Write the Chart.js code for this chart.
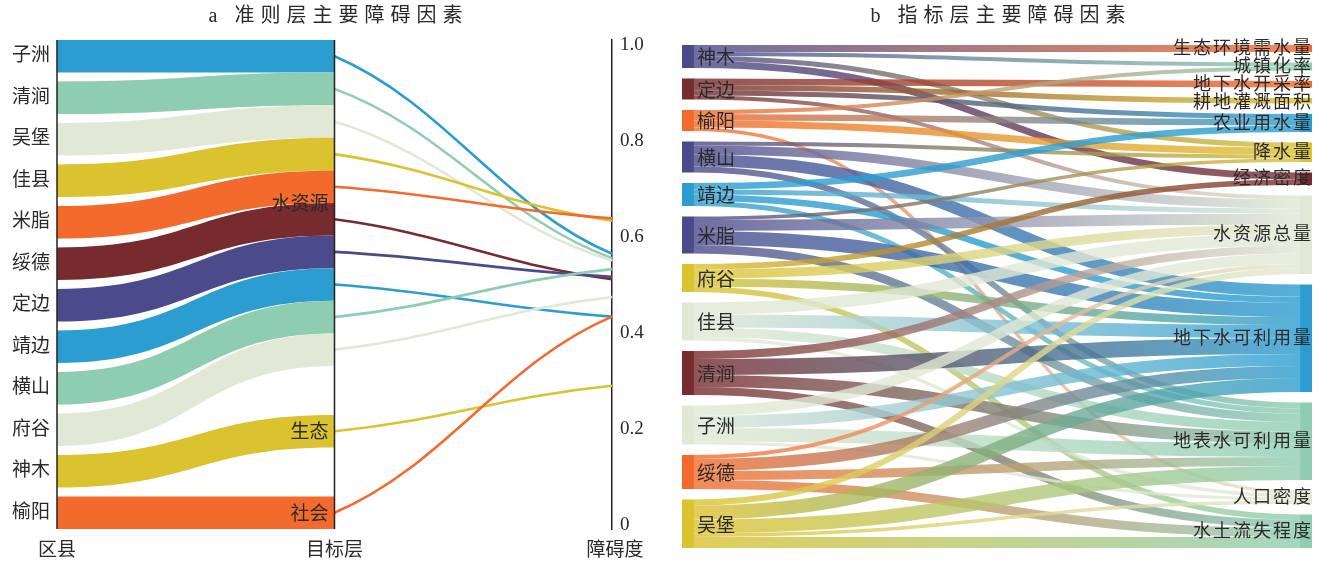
<!DOCTYPE html>
<html lang="zh-CN">
<head>
<meta charset="utf-8">
<title>准则层与指标层主要障碍因素</title>
<script src="https://cdn.jsdelivr.net/npm/chart.js@4.4.1/dist/chart.umd.min.js"></script>
<style>
  html, body { margin: 0; padding: 0; background: #fff; }
  #wrap { position: relative; width: 1320px; height: 565px; overflow: hidden; }
  #wrap canvas { position: absolute; top: 0; }
  #ca { left: 0; }
  #cb { left: 660px; }
</style>
</head>
<body>
<div id="wrap">
  <canvas id="ca" width="660" height="565"></canvas>
  <canvas id="cb" width="660" height="565"></canvas>
</div>
<script>
// ---------- a: 区县 → 目标层 → 障碍度 ----------
const counties = ['子洲', '清涧', '吴堡', '佳县', '米脂', '绥德', '定边', '靖边', '横山', '府谷', '神木', '榆阳'];
const criteria = ['水资源', '生态', '社会'];
const mainCriterion = ['水资源', '水资源', '水资源', '水资源', '水资源', '水资源',
                       '水资源', '水资源', '水资源', '水资源', '生态', '社会'];
const obstacleDegree = [0.565, 0.556, 0.551, 0.634, 0.639, 0.512, 0.517, 0.434, 0.533, 0.475, 0.290, 0.434];
const degreeTicks = [0, 0.2, 0.4, 0.6, 0.8, 1.0];
const axisNames = ['区县', '目标层', '障碍度'];

// ---------- b: 区县 → 指标层 ----------
const districts = ['神木', '定边', '榆阳', '横山', '靖边', '米脂', '府谷', '佳县', '清涧', '子洲', '绥德', '吴堡'];
const indicators = ['生态环境需水量', '城镇化率', '地下水开采率', '耕地灌溉面积', '农业用水量', '降水量',
                    '经济密度', '水资源总量', '地下水可利用量', '地表水可利用量', '人口密度', '水土流失程度'];
const linkFrom = [
  '神木', '神木', '神木', '神木',
  '定边', '定边', '定边', '定边',
  '榆阳', '榆阳', '榆阳', '榆阳',
  '横山', '横山', '横山', '横山',
  '靖边', '靖边', '靖边', '靖边',
  '米脂', '米脂', '米脂', '米脂',
  '府谷', '府谷', '府谷', '府谷',
  '佳县', '佳县', '佳县', '佳县',
  '清涧', '清涧', '清涧', '清涧',
  '子洲', '子洲', '子洲', '子洲',
  '绥德', '绥德', '绥德', '绥德',
  '吴堡', '吴堡', '吴堡', '吴堡', '吴堡'
];
const linkTo = [
  '生态环境需水量', '城镇化率', '降水量', '经济密度',
  '地下水开采率', '耕地灌溉面积', '农业用水量', '水资源总量',
  '城镇化率', '农业用水量', '降水量', '人口密度',
  '降水量', '水资源总量', '地下水可利用量', '地表水可利用量',
  '农业用水量', '水资源总量', '地下水可利用量', '地表水可利用量',
  '降水量', '水资源总量', '地下水可利用量', '地表水可利用量',
  '经济密度', '水资源总量', '地下水可利用量', '水土流失程度',
  '水资源总量', '地下水可利用量', '地表水可利用量', '人口密度',
  '水资源总量', '地下水可利用量', '地表水可利用量', '水土流失程度',
  '水资源总量', '地下水可利用量', '地表水可利用量', '人口密度',
  '水资源总量', '地下水可利用量', '地表水可利用量', '水土流失程度',
  '水资源总量', '地下水可利用量', '地表水可利用量', '人口密度', '水土流失程度'
];
const linkValue = [
  7, 4, 5, 7,
  6.5, 5.5, 5, 4,
  4, 6.5, 7, 3.5,
  4, 9, 12, 6,
  6.5, 5, 6.5, 5,
  3.5, 11, 14, 8.5,
  5.5, 9, 8, 5.5,
  12, 13, 9.5, 3.5,
  8, 16, 12, 8,
  10.5, 12, 13.5, 3,
  4, 12, 9, 9,
  6, 14, 14, 3.5, 11
];

// ---------- styling ----------
const C = {
  blue: '#2b9dd0', mint: '#8ecdb2', pale: '#e1e8d5', yellow: '#dbc22f',
  orange: '#f26b2c', wine: '#772b2e', indigo: '#4b4a8b'
};
const colorA = {
  '子洲': C.blue, '清涧': C.mint, '吴堡': C.pale, '佳县': C.yellow, '米脂': C.orange, '绥德': C.wine,
  '定边': C.indigo, '靖边': C.blue, '横山': C.mint, '府谷': C.pale, '神木': C.yellow, '榆阳': C.orange
};
const colorB = {
  '神木': C.indigo, '定边': C.wine, '榆阳': C.orange, '横山': C.indigo, '靖边': C.blue, '米脂': C.indigo,
  '府谷': C.yellow, '佳县': C.pale, '清涧': C.wine, '子洲': C.pale, '绥德': C.orange, '吴堡': C.yellow
};
const colorInd = {
  '生态环境需水量': C.orange, '城镇化率': C.mint, '地下水开采率': C.orange, '耕地灌溉面积': C.yellow,
  '农业用水量': C.blue, '降水量': C.yellow, '经济密度': C.wine, '水资源总量': C.pale,
  '地下水可利用量': C.blue, '地表水可利用量': C.mint, '人口密度': C.pale, '水土流失程度': C.mint
};
const FONT = "'Liberation Serif', 'Noto Sans CJK SC', sans-serif";
const TEXT = '#2a2a2a';
const STACK_GAP = 3;      // free band units shared out between the stacked bands of chart a
const SANKEY_PAD = 10.5;  // space between sankey nodes, in value units
const NODE_W = 0.019;     // sankey node width as a share of the x span
const LABEL_STEP = 18;    // minimum pixel distance between stacked indicator labels

function drawTitle(chart, text) {
  const { ctx, chartArea } = chart;
  ctx.save();
  ctx.font = '20px ' + FONT;
  ctx.fillStyle = TEXT;
  ctx.textAlign = 'center';
  ctx.textBaseline = 'middle';
  ctx.letterSpacing = '6px';
  ctx.fillText(text, (chartArea.left + chartArea.right) / 2 + 4, 17);
  ctx.restore();
}

// S-shaped link with flat ends (ribbons, sankey links)
function sCurve(ctx, x0, y0, x1, y1) {
  const xm = (x0 + x1) / 2;
  ctx.bezierCurveTo(xm, y0, xm, y1, x1, y1);
}
// softer curve that leaves and meets the axes at an angle (obstacle lines)
function slopeCurve(ctx, x0, y0, x1, y1) {
  const dx = x1 - x0, dy = y1 - y0;
  ctx.bezierCurveTo(x0 + 0.4 * dx, y0 + 0.24 * dy, x1 - 0.4 * dx, y1 - 0.24 * dy, x1, y1);
}

// ---------- chart a: stacked bands + obstacle lines ----------
const alluvialPlugin = {
  id: 'alluvial',
  afterDatasetsDraw(chart) {
    const { ctx, chartArea, scales: { x, ys, y } } = chart;
    const n = counties.length;
    const gapL = STACK_GAP / (n - 1);
    const gapM = STACK_GAP / (criteria.length - 1);

    // band positions in the middle column, grouped by criterion
    const midTop = new Array(n);
    const groupSpan = {};
    let cursor = 0;
    criteria.forEach(c => {
      const start = cursor;
      counties.forEach((name, i) => {
        if (mainCriterion[i] === c) { midTop[i] = cursor; cursor += 1; }
      });
      groupSpan[c] = [start, cursor];
      cursor += gapM;
    });

    const x0 = x.getPixelForValue(0), x1 = x.getPixelForValue(1), x2 = x.getPixelForValue(2);

    ctx.save();
    // ribbons from each county to its criterion
    counties.forEach((name, i) => {
      const lt = i * (1 + gapL);
      const a0 = ys.getPixelForValue(lt), b0 = ys.getPixelForValue(lt + 1);
      const a1 = ys.getPixelForValue(midTop[i]), b1 = ys.getPixelForValue(midTop[i] + 1);
      ctx.fillStyle = colorA[name];
      ctx.beginPath();
      ctx.moveTo(x0, a0);
      sCurve(ctx, x0, a0, x1, a1);
      ctx.lineTo(x1, b1);
      sCurve(ctx, x1, b1, x0, b0);
      ctx.closePath();
      ctx.fill();
    });

    // lines from criterion band to obstacle degree
    ctx.lineWidth = 2.6;
    ctx.lineCap = 'butt';
    counties.forEach((name, i) => {
      const ya = ys.getPixelForValue(midTop[i] + 0.5);
      const yb = y.getPixelForValue(obstacleDegree[i]);
      ctx.strokeStyle = colorA[name];
      ctx.beginPath();
      ctx.moveTo(x1, ya);
      slopeCurve(ctx, x1, ya, x2, yb);
      ctx.stroke();
    });

    // column axes
    ctx.strokeStyle = '#222';
    ctx.lineWidth = 1.5;
    [x0, x1].forEach(px => {
      ctx.beginPath();
      ctx.moveTo(px, chartArea.top);
      ctx.lineTo(px, chartArea.bottom);
      ctx.stroke();
    });

    // labels
    ctx.font = '19px ' + FONT;
    ctx.fillStyle = TEXT;
    ctx.textBaseline = 'middle';
    ctx.textAlign = 'right';
    counties.forEach((name, i) => {
      const lt = i * (1 + gapL);
      ctx.fillText(name, x0 - 7, ys.getPixelForValue(lt + 0.5));
    });
    criteria.forEach(c => {
      const [s, e] = groupSpan[c];
      ctx.fillText(c, x1 - 6, ys.getPixelForValue((s + e) / 2) + 2);
    });
    ctx.textAlign = 'center';
    axisNames.forEach((t, k) => {
      ctx.fillText(t, x.getPixelForValue(k) + (k === 2 ? 3 : 0), chartArea.bottom + 22);
    });
    ctx.restore();
    drawTitle(chart, 'a 准则层主要障碍因素');
  }
};

new Chart(document.getElementById('ca'), {
  type: 'scatter',
  data: { datasets: [] },
  options: {
    responsive: false,
    animation: false,
    devicePixelRatio: 1,
    layout: { padding: { left: 57, right: 8, top: 40, bottom: 36 } },
    plugins: { legend: { display: false }, tooltip: { enabled: false }, title: { display: false } },
    scales: {
      x: { type: 'linear', min: 0, max: 2, display: false },
      ys: { type: 'linear', axis: 'y', min: 0, max: counties.length + STACK_GAP, reverse: true, display: false },
      y: {
        type: 'linear', position: 'right', min: -0.0085, max: 1.0105,
        afterBuildTicks: s => { s.ticks = degreeTicks.map(v => ({ value: v })); },
        afterFit: s => { s.width = 40; },
        grid: { display: false, drawTicks: false },
        border: { display: true, color: '#222', width: 1.5 },
        ticks: {
          padding: 8, color: TEXT,
          font: { family: "'Liberation Serif'", size: 19 },
          callback: v => (v === 0 ? '0' : Number(v).toFixed(1))
        }
      }
    }
  },
  plugins: [alluvialPlugin]
});

// ---------- chart b: sankey ----------
function sankeyLayout() {
  const out = districts.map(() => 0), inn = indicators.map(() => 0);
  const links = linkValue.map((v, k) => ({
    s: districts.indexOf(linkFrom[k]), t: indicators.indexOf(linkTo[k]), value: v
  }));
  links.forEach(l => { out[l.s] += l.value; inn[l.t] += l.value; });
  const srcTop = [], tgtTop = [];
  let c = 0;
  out.forEach((v, i) => { srcTop[i] = c; c += v + SANKEY_PAD; });
  c = 0;
  inn.forEach((v, i) => { tgtTop[i] = c; c += v + SANKEY_PAD; });
  // stack links inside nodes: by target order at the source, by source order at the target
  const so = srcTop.slice(), to = tgtTop.slice();
  links.slice().sort((a, b) => a.s - b.s || a.t - b.t).forEach(l => { l.sy = so[l.s]; so[l.s] += l.value; });
  links.slice().sort((a, b) => a.t - b.t || a.s - b.s).forEach(l => { l.ty = to[l.t]; to[l.t] += l.value; });
  return { links, out, inn, srcTop, tgtTop };
}

const sankeyPlugin = {
  id: 'sankey',
  afterDatasetsDraw(chart) {
    const { ctx, scales: { x, y } } = chart;
    const L = sankeyLayout();
    const px0 = x.getPixelForValue(NODE_W), px1 = x.getPixelForValue(1 - NODE_W);
    const unit = v => Math.abs(y.getPixelForValue(v) - y.getPixelForValue(0));

    ctx.save();
    ctx.globalAlpha = 0.8;
    ctx.lineCap = 'butt';
    L.links.forEach(l => {
      const ya = y.getPixelForValue(l.sy + l.value / 2);
      const yb = y.getPixelForValue(l.ty + l.value / 2);
      const g = ctx.createLinearGradient(px0, 0, px1, 0);
      g.addColorStop(0, colorB[districts[l.s]]);
      g.addColorStop(1, colorInd[indicators[l.t]]);
      ctx.strokeStyle = g;
      ctx.lineWidth = unit(l.value);
      ctx.beginPath();
      ctx.moveTo(px0, ya);
      sCurve(ctx, px0, ya, px1, yb);
      ctx.stroke();
    });
    ctx.restore();

    ctx.save();
    const xl = x.getPixelForValue(0), xr = x.getPixelForValue(1);
    districts.forEach((name, i) => {
      ctx.fillStyle = colorB[name];
      ctx.fillRect(xl, y.getPixelForValue(L.srcTop[i]), px0 - xl, unit(L.out[i]));
    });
    indicators.forEach((name, i) => {
      ctx.fillStyle = colorInd[name];
      ctx.fillRect(px1, y.getPixelForValue(L.tgtTop[i]), xr - px1, unit(L.inn[i]));
    });

    ctx.fillStyle = TEXT;
    ctx.textBaseline = 'middle';
    ctx.font = '19px ' + FONT;
    ctx.textAlign = 'left';
    districts.forEach((name, i) => {
      ctx.fillText(name, px0 + 3, y.getPixelForValue(L.srcTop[i] + L.out[i] / 2) + 3);
    });
    // indicator labels, pushed down where small nodes sit too close together
    ctx.font = '18px ' + FONT;
    ctx.letterSpacing = '2px';
    ctx.textAlign = 'right';
    let prev = -Infinity;
    indicators.forEach((name, i) => {
      let ly = y.getPixelForValue(L.tgtTop[i] + L.inn[i] / 2) + 1;
      if (ly < prev + LABEL_STEP) ly = prev + LABEL_STEP;
      prev = ly;
      ctx.fillText(name, xr + 1, ly);
    });
    ctx.restore();
    drawTitle(chart, 'b 指标层主要障碍因素');
  }
};

const sankeyTotal = linkValue.reduce((a, b) => a + b, 0) + SANKEY_PAD * (districts.length - 1);

new Chart(document.getElementById('cb'), {
  type: 'scatter',
  data: { datasets: [] },
  options: {
    responsive: false,
    animation: false,
    devicePixelRatio: 1,
    layout: { padding: { left: 22, right: 8, top: 45, bottom: 17 } },
    plugins: { legend: { display: false }, tooltip: { enabled: false }, title: { display: false } },
    scales: {
      x: { type: 'linear', min: 0, max: 1, display: false },
      y: { type: 'linear', min: 0, max: sankeyTotal, reverse: true, display: false }
    }
  },
  plugins: [sankeyPlugin]
});
</script>
</body>
</html>
